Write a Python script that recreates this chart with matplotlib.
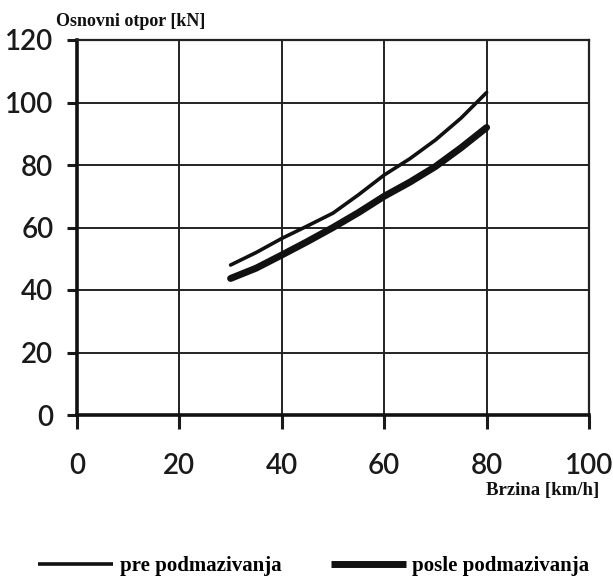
import matplotlib
matplotlib.use("Agg")
import matplotlib.pyplot as plt

# Data
brzina = [30, 35, 40, 45, 50, 55, 60, 65, 70, 75, 80]
pre_podmazivanja = [48.0, 52.0, 56.5, 60.5, 64.6, 70.5, 76.8, 82.0, 88.0, 95.0, 103.2]
posle_podmazivanja = [43.7, 47.0, 51.2, 55.5, 60.0, 64.8, 70.0, 74.5, 79.5, 85.5, 92.0]
x_ticks = [0, 20, 40, 60, 80, 100]
y_ticks = [0, 20, 40, 60, 80, 100, 120]
label_pre = "pre podmazivanja"
label_posle = "posle podmazivanja"
y_title = "Osnovni otpor [kN]"
x_title = "Brzina [km/h]"

plt.rcParams['font.family'] = ['Liberation Serif', 'DejaVu Serif']

fig = plt.figure(figsize=(6.13, 5.76), dpi=100)
ax = fig.add_axes([77/613, 1 - 415/576, 512/613, 375/576])

ln1, = ax.plot(brzina, pre_podmazivanja, color='#111111', lw=2.6,
               solid_capstyle='round', solid_joinstyle='round', label=label_pre)
ln2, = ax.plot(brzina, posle_podmazivanja, color='#111111', lw=5.0,
               solid_capstyle='round', solid_joinstyle='round', label=label_posle)

ax.set_xlim(0, 100)
ax.set_ylim(0, 120)
ax.set_xticks(x_ticks)
ax.set_yticks(y_ticks)
tick_font = {'family': ['Lato', 'DejaVu Sans'], 'weight': 'semibold', 'size': 20}
ax.set_xticklabels([str(v) for v in x_ticks], fontdict=tick_font)
ax.set_yticklabels([str(v) for v in y_ticks], fontdict=tick_font)
ax.grid(True, color='#222222', lw=1.4)
ax.set_axisbelow(True)

for s in ['top', 'right']:
    ax.spines[s].set_linewidth(1.6)
    ax.spines[s].set_color('#222222')
for s in ['left', 'bottom']:
    ax.spines[s].set_linewidth(2.6)
    ax.spines[s].set_color('#111111')

ax.tick_params(axis='x', direction='out', length=10, width=2.2, pad=17,
               colors='#1a1a1a')
ax.tick_params(axis='y', direction='out', length=7, width=2.2, pad=10,
               colors='#1a1a1a')

fig.text(56/613, 1 - 22/576, y_title, ha='left', va='center',
         fontsize=13, fontweight='bold', color='#111111')
fig.text(599/613, 1 - 490/576, x_title, ha='right', va='center',
         fontsize=13.5, fontweight='bold', color='#111111')

leg = fig.legend(handles=[ln1, ln2], loc='center', bbox_to_anchor=(314/613, 1 - 566/576),
                 ncol=2, frameon=False, prop={'size': 15, 'weight': 'bold'},
                 handlelength=3.6, handletextpad=0.3, columnspacing=2.4)
for h in leg.legend_handles:
    h.set_solid_capstyle('butt')

fig.savefig('out.png', dpi=100, facecolor='white')
